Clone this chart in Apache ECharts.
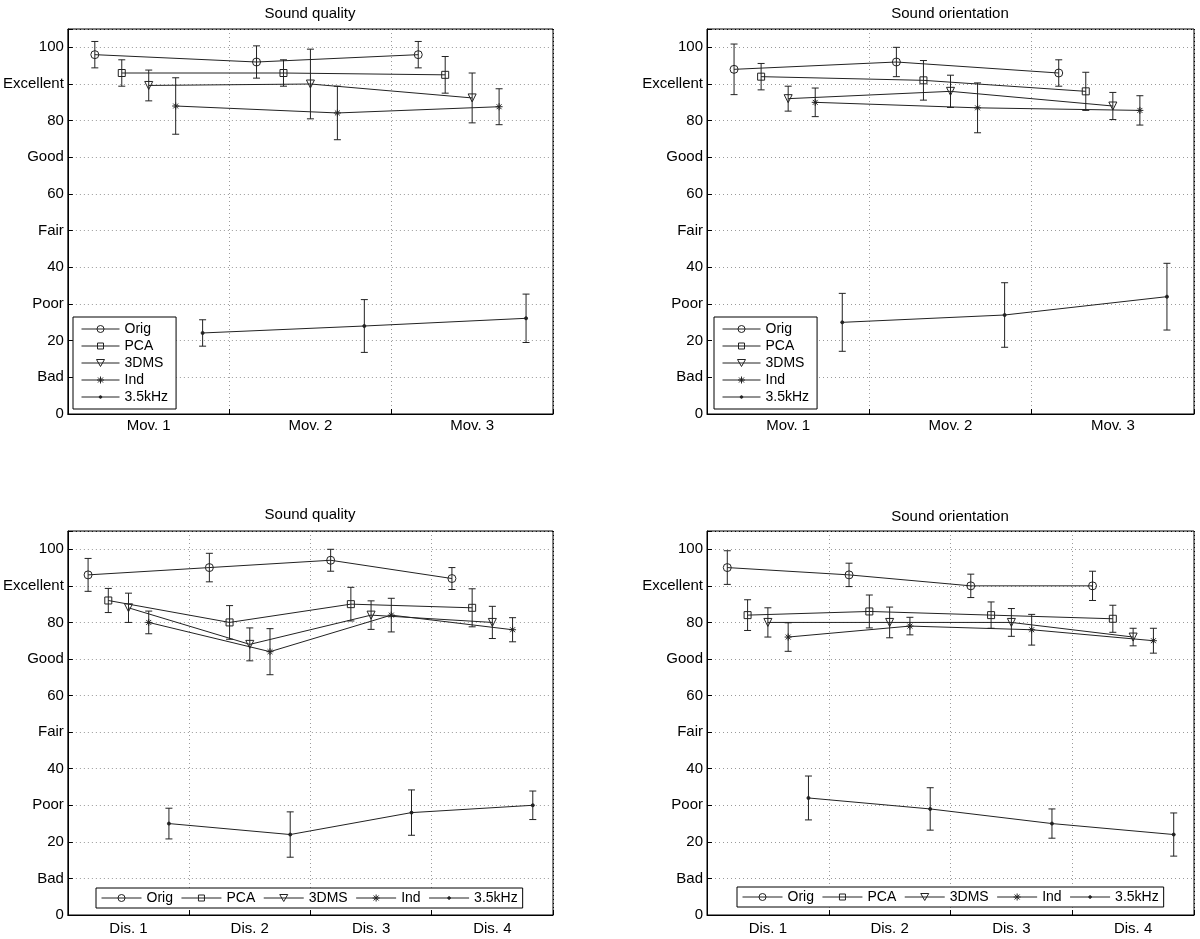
<!DOCTYPE html>
<html>
<head>
<meta charset="utf-8">
<script src="https://cdn.jsdelivr.net/npm/echarts@6/dist/echarts.min.js"></script>
<style>html,body{margin:0;padding:0;background:#fff}#chart{width:1200px;height:939px}</style>
</head>
<body>
<div id="chart"></div>
<script>
// ---- data ----
const methods = ['Orig', 'PCA', '3DMS', 'Ind', '3.5kHz'];
const movCategories = ['Mov. 1', 'Mov. 2', 'Mov. 3'];
const disCategories = ['Dis. 1', 'Dis. 2', 'Dis. 3', 'Dis. 4'];
const yTickLabels = ['0', 'Bad', '20', 'Poor', '40', 'Fair', '60', 'Good', '80', 'Excellent', '100'];

// rows follow methods order
const qualityMovMean = [[98, 96, 98], [93, 93, 92.5], [89.6, 90, 86.2], [84, 82.1, 83.8], [22.1, 24, 26.1]];
const qualityMovErr  = [[3.6, 4.4, 3.6], [3.6, 3.6, 5], [4.2, 9.5, 6.8], [7.7, 7.3, 4.9], [3.6, 7.2, 6.6]];
const orientMovMean  = [[94, 96, 93], [92, 91, 88], [86, 88, 84], [85, 83.5, 82.8], [25, 27, 32]];
const orientMovErr   = [[6.9, 4, 3.6], [3.6, 5.4, 5.2], [3.4, 4.4, 3.7], [3.9, 6.8, 4], [7.9, 8.8, 9.1]];
const qualityDisMean = [[93, 95, 97, 92], [86, 80, 85, 84], [84, 74, 82, 80], [80, 72, 82, 78], [25, 22, 28, 30]];
const qualityDisErr  = [[4.5, 3.9, 3, 3], [3.3, 4.6, 4.6, 5.2], [4, 4.5, 3.9, 4.4], [3.1, 6.3, 4.6, 3.3], [4.2, 6.2, 6.2, 3.9]];
const orientDisMean  = [[95, 93, 90, 90], [82, 83, 82, 81], [80, 80, 80, 76], [76, 79, 78, 75], [32, 29, 25, 22]];
const orientDisErr   = [[4.6, 3.2, 3.2, 4], [4.2, 4.5, 3.6, 3.7], [4, 4.2, 3.8, 2.4], [3.9, 2.4, 4.2, 3.4], [6, 5.8, 4, 5.9]];

// ---- style ----
const FONT = 'Liberation Sans, Arial, Helvetica, sans-serif';
const INK = '#222';
const GRIDC = '#9a9a9a';
const CLEAR = 'rgba(0,0,0,0)';
const asterisk = 'path://M0,-10L0,10M-10,0L10,0M-7,-7L7,7M-7,7L7,-7';
const symbols = [
  { symbol: 'circle', size: 8, rotate: 0, fill: CLEAR },
  { symbol: 'rect', size: 7, rotate: 0, fill: CLEAR },
  { symbol: 'triangle', size: 8, rotate: 180, fill: CLEAR },
  { symbol: asterisk, size: 7, rotate: 0, fill: CLEAR },
  { symbol: 'circle', size: 3, rotate: 0, fill: INK }
];

// legend icon: a line of width W with the marker drawn in its middle (box W x 9)
function legendIcon(k, W) {
  const H = 9, cx = W / 2, cy = H / 2;
  let s = 'path://M0,0L0,0M0,' + H + 'L0,' + H + 'M0,' + cy + 'L' + W + ',' + cy;
  const circ = r => 'M' + (cx + r) + ',' + cy + 'A' + r + ',' + r + ',0,1,1,' + (cx - r) + ',' + cy +
                    'A' + r + ',' + r + ',0,1,1,' + (cx + r) + ',' + cy + 'Z';
  if (k === 0) s += circ(3.5);
  if (k === 1) s += 'M' + (cx - 3) + ',' + (cy - 3) + 'L' + (cx + 3) + ',' + (cy - 3) + 'L' + (cx + 3) + ',' + (cy + 3) + 'L' + (cx - 3) + ',' + (cy + 3) + 'Z';
  if (k === 2) s += 'M' + (cx - 4) + ',' + (cy - 3.5) + 'L' + (cx + 4) + ',' + (cy - 3.5) + 'L' + cx + ',' + (cy + 3.5) + 'Z';
  if (k === 3) s += 'M' + cx + ',' + (cy - 3.5) + 'L' + cx + ',' + (cy + 3.5) + 'M' + (cx - 3.5) + ',' + cy + 'L' + (cx + 3.5) + ',' + cy +
                    'M' + (cx - 2.5) + ',' + (cy - 2.5) + 'L' + (cx + 2.5) + ',' + (cy + 2.5) + 'M' + (cx - 2.5) + ',' + (cy + 2.5) + 'L' + (cx + 2.5) + ',' + (cy - 2.5);
  if (k === 4) s += circ(1.3);
  return s;
}

const panels = [
  { title: 'Sound quality', cats: movCategories, mean: qualityMovMean, err: qualityMovErr,
    grid: { left: 66, top: 29, width: 487, height: 385 }, titleX: 310, titleY: 6, labelMargin: 4,
    legend: { left: 73, top: 317, orient: 'vertical' } },
  { title: 'Sound orientation', cats: movCategories, mean: orientMovMean, err: orientMovErr,
    grid: { left: 707, top: 29, width: 487, height: 385 }, titleX: 950, titleY: 6, labelMargin: 4,
    legend: { left: 714, top: 317, orient: 'vertical' } },
  { title: 'Sound quality', cats: disCategories, mean: qualityDisMean, err: qualityDisErr,
    grid: { left: 66, top: 531, width: 487, height: 384 }, titleX: 310, titleY: 507, labelMargin: 6,
    legend: { left: 96, top: 888, orient: 'horizontal' } },
  { title: 'Sound orientation', cats: disCategories, mean: orientDisMean, err: orientDisErr,
    grid: { left: 707, top: 531, width: 487, height: 384 }, titleX: 950, titleY: 509, labelMargin: 6,
    legend: { left: 737, top: 887, orient: 'horizontal' } }
];

function renderErr(params, api) {
  const x = api.value(0), lo = api.value(1), hi = api.value(2);
  const p1 = api.coord([x, lo]);
  const p2 = api.coord([x, hi]);
  const w = 3.5;
  const st = { stroke: INK, lineWidth: 1, fill: null };
  return {
    type: 'group',
    children: [
      { type: 'line', shape: { x1: p1[0], y1: p1[1], x2: p2[0], y2: p2[1] }, style: st },
      { type: 'line', shape: { x1: p1[0] - w, y1: p1[1], x2: p1[0] + w, y2: p1[1] }, style: st },
      { type: 'line', shape: { x1: p2[0] - w, y1: p2[1], x2: p2[0] + w, y2: p2[1] }, style: st }
    ]
  };
}

const option = {
  animation: false,
  backgroundColor: '#fff',
  textStyle: { fontFamily: FONT },
  title: [], grid: [], xAxis: [], yAxis: [], legend: [], series: []
};

const ySplitColors = yTickLabels.map(() => GRIDC).concat(['#000']);

panels.forEach((p, pi) => {
  const n = p.cats.length;
  option.title.push({
    text: p.title, left: p.titleX, top: p.titleY, textAlign: 'center', padding: 0,
    textStyle: { fontFamily: FONT, fontSize: 15, fontWeight: 'normal', color: '#000' }
  });
  option.grid.push(Object.assign({ show: true, borderColor: '#000', borderWidth: 1, backgroundColor: '#fff' }, p.grid));
  option.xAxis.push({
    type: 'category', gridIndex: pi, data: p.cats, boundaryGap: true,
    axisLine: { show: true, onZero: false, lineStyle: { color: '#000', width: 1 } },
    axisTick: { show: true, inside: true, length: 5, lineStyle: { color: '#000' } },
    axisLabel: { color: '#000', fontSize: 15, fontFamily: FONT, margin: p.labelMargin },
    splitLine: { show: true, lineStyle: { color: ['#000'].concat(p.cats.slice(1).map(() => GRIDC)).concat(['#000']), type: [1, 3], width: 1 } }
  });
  option.xAxis.push({ type: 'value', gridIndex: pi, min: 0, max: n, show: false });
  option.yAxis.push({
    type: 'value', gridIndex: pi, min: 0, max: 105, interval: 10,
    axisLine: { show: true, onZero: false, lineStyle: { color: '#000', width: 1 } },
    axisTick: { show: true, inside: true, length: 5, lineStyle: { color: '#000' } },
    axisLabel: {
      color: '#000', fontSize: 15, fontFamily: FONT, margin: 4, showMaxLabel: true,
      formatter: v => (v % 10 === 0 && v / 10 < yTickLabels.length) ? yTickLabels[v / 10] : ''
    },
    splitLine: { show: true, lineStyle: { color: ySplitColors, type: [1, 3], width: 1 } }
  });
  const vertical = p.legend.orient === 'vertical';
  const W = vertical ? 38 : 40;
  option.legend.push({
    data: methods.map((m, k) => ({
      name: m, icon: legendIcon(k, W),
      itemStyle: { color: symbols[k].fill, borderColor: INK, borderWidth: 1 }
    })),
    left: p.legend.left, top: p.legend.top, orient: p.legend.orient,
    backgroundColor: '#fff', borderColor: '#000', borderWidth: 1,
    padding: vertical ? [5, 8, 5, 8] : [3, 5, 3, 5],
    itemWidth: W, itemHeight: 9, itemGap: vertical ? 3 : 8,
    itemStyle: { borderWidth: 1, borderColor: INK },
    selectedMode: false,
    textStyle: { fontFamily: FONT, fontSize: 14, color: '#000', lineHeight: 14 }
  });
  methods.forEach((m, k) => {
    const xs = p.cats.map((c, i) => i + 0.5 + (k - 2) / 6);
    const sy = symbols[k];
    option.series.push({
      type: 'line', name: m, xAxisIndex: pi * 2 + 1, yAxisIndex: pi,
      data: xs.map((x, i) => [x, p.mean[k][i]]),
      symbol: sy.symbol, symbolSize: sy.size, symbolRotate: sy.rotate, showSymbol: true,
      lineStyle: { color: INK, width: 1 },
      itemStyle: { color: sy.fill, borderColor: INK, borderWidth: 1 },
      emphasis: { disabled: true }, silent: true, z: 3
    });
    option.series.push({
      type: 'custom', name: m + ' error', xAxisIndex: pi * 2 + 1, yAxisIndex: pi,
      data: xs.map((x, i) => [x, p.mean[k][i] - p.err[k][i], p.mean[k][i] + p.err[k][i]]),
      encode: { x: 0, y: [1, 2] },
      renderItem: renderErr, silent: true, z: 2
    });
  });
});

const chart = echarts.init(document.getElementById('chart'), null, { renderer: 'canvas' });
chart.setOption(option);
</script>
</body>
</html>
